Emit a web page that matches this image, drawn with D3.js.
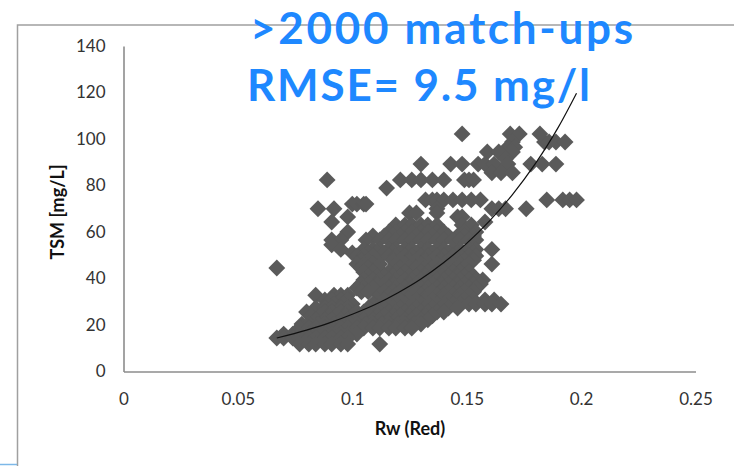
<!DOCTYPE html>
<html>
<head>
  <style>
    html, body { margin: 0; padding: 0; background: #fff; overflow: hidden; }
    svg { display: block; }
    .tick text { font: 17px Lato, sans-serif; fill: #333; }
    .axis-title { font: bold 18px Lato, sans-serif; fill: #111; }
    .headline { font: bold 44px Lato, sans-serif; fill: #1e88ff; }
  </style>
</head>
<body>
  <script src="https://d3js.org/d3.v7.min.js"></script>
  <script>
    const xTicks = [0, 0.05, 0.1, 0.15, 0.2, 0.25];
    const yTicks = [0, 20, 40, 60, 80, 100, 120, 140];

    // TSM values, match-ups grouped by TSM level
    const tsmLevels = [102.2, 98.7, 96.5, 94.4, 91.5, 89.2, 85.5, 82.4, 78.9, 73.8, 72, 70, 68.2, 66.5, 64.3, 63, 60,
      58.3, 56.6, 54.5, 52.5, 51, 49.7, 47.9, 46.2, 44.5, 44.6, 42.8, 41, 39.4, 37.6, 35.9, 34.3, 32.8, 30.8, 29, 27.3,
      25.6, 24, 22.2, 20.4, 18.7, 16.1, 14.4, 11.8];

    // Rw (Red) values for each TSM level above
    const rwAtLevel = [
      [0.148, 0.169, 0.173, 0.182],
      [0.170, 0.184, 0.186, 0.189, 0.193],
      [0.168, 0.171],
      [0.159, 0.164, 0.170],
      [0.167],
      [0.130, 0.143, 0.148, 0.155, 0.158, 0.162, 0.168, 0.178, 0.183, 0.189],
      [0.161, 0.165, 0.170],
      [0.089, 0.121, 0.126, 0.130, 0.135, 0.140, 0.149, 0.151, 0.153],
      [0.115],
      [0.132, 0.135, 0.137, 0.140, 0.144, 0.148, 0.152, 0.156, 0.185, 0.192, 0.195, 0.198],
      [0.100, 0.102, 0.105, 0.106],
      [0.085, 0.092, 0.137, 0.161, 0.164, 0.167, 0.176],
      [0.125, 0.128, 0.137],
      [0.098, 0.146, 0.148],
      [0.091, 0.158],
      [0.119, 0.123, 0.126, 0.130, 0.133, 0.137, 0.148, 0.152],
      [0.098, 0.116, 0.119, 0.123, 0.126, 0.130, 0.133, 0.137, 0.140, 0.149, 0.154],
      [0.109, 0.114, 0.118, 0.121, 0.125, 0.128, 0.132, 0.135, 0.139, 0.142, 0.146, 0.149, 0.153],
      [0.091, 0.095, 0.106, 0.112, 0.116, 0.119, 0.123, 0.126, 0.130, 0.133, 0.137, 0.140, 0.144, 0.147, 0.151, 0.154],
      [0.091],
      [0.095, 0.105, 0.109, 0.112, 0.116, 0.119, 0.123, 0.126, 0.130, 0.133, 0.137, 0.140, 0.144, 0.147, 0.151, 0.154, 0.161],
      [0.100, 0.107, 0.111, 0.114, 0.118, 0.121, 0.125, 0.128, 0.132, 0.135, 0.139, 0.142, 0.146, 0.149, 0.153],
      [0.102, 0.105, 0.109, 0.116, 0.119, 0.123, 0.126, 0.130, 0.133, 0.137, 0.140, 0.144, 0.147, 0.151, 0.154],
      [0.104, 0.107, 0.118, 0.121, 0.125, 0.128, 0.132, 0.135, 0.139, 0.142, 0.146, 0.149, 0.153],
      [0.102, 0.105, 0.109, 0.112, 0.119, 0.123, 0.126, 0.130, 0.133, 0.137, 0.140, 0.144, 0.147, 0.151, 0.161],
      [0.067],
      [0.104, 0.107, 0.111, 0.121, 0.125, 0.128, 0.132, 0.135, 0.139, 0.142, 0.146, 0.149],
      [0.105, 0.109, 0.116, 0.119, 0.123, 0.130, 0.133, 0.137, 0.140, 0.144, 0.147, 0.151],
      [0.107, 0.111, 0.114, 0.118, 0.121, 0.125, 0.128, 0.132, 0.135, 0.139, 0.142, 0.146, 0.149, 0.153],
      [0.105, 0.109, 0.112, 0.116, 0.119, 0.123, 0.126, 0.130, 0.133, 0.137, 0.140, 0.144, 0.147, 0.151, 0.154, 0.157],
      [0.104, 0.107, 0.111, 0.114, 0.118, 0.121, 0.125, 0.128, 0.132, 0.135, 0.139, 0.142, 0.146, 0.149, 0.153, 0.156],
      [0.102, 0.105, 0.109, 0.116, 0.119, 0.123, 0.126, 0.130, 0.133, 0.137, 0.140, 0.144, 0.147, 0.151, 0.154],
      [0.104, 0.107, 0.114, 0.118, 0.121, 0.125, 0.128, 0.132, 0.135, 0.139, 0.142, 0.146, 0.149, 0.153],
      [0.084, 0.092, 0.095, 0.098, 0.112, 0.116, 0.119, 0.123, 0.126, 0.130, 0.133, 0.137, 0.140, 0.144, 0.147, 0.151],
      [0.088, 0.091, 0.095, 0.098, 0.111, 0.114, 0.118, 0.121, 0.125, 0.128, 0.132, 0.135, 0.139, 0.142, 0.146, 0.149, 0.153, 0.158, 0.162],
      [0.089, 0.092, 0.096, 0.100, 0.109, 0.112, 0.116, 0.119, 0.123, 0.126, 0.130, 0.133, 0.137, 0.140, 0.144, 0.147, 0.151, 0.154, 0.158, 0.161, 0.165],
      [0.084, 0.088, 0.091, 0.095, 0.098, 0.107, 0.111, 0.114, 0.118, 0.121, 0.125, 0.128, 0.132, 0.135, 0.139, 0.142, 0.146],
      [0.080, 0.088, 0.091, 0.095, 0.098, 0.102, 0.105, 0.109, 0.112, 0.116, 0.119, 0.123, 0.126, 0.130, 0.133, 0.137, 0.140],
      [0.082, 0.086, 0.090, 0.093, 0.097, 0.100, 0.104, 0.107, 0.111, 0.114, 0.118, 0.121, 0.125, 0.128, 0.132, 0.135],
      [0.084, 0.088, 0.091, 0.095, 0.098, 0.102, 0.105, 0.109, 0.112, 0.116, 0.119, 0.123, 0.126, 0.130, 0.133],
      [0.078, 0.081, 0.085, 0.088, 0.092, 0.095, 0.099, 0.102, 0.106, 0.109, 0.113, 0.116, 0.120, 0.123, 0.127, 0.130],
      [0.077, 0.081, 0.084, 0.088, 0.091, 0.095, 0.098, 0.102, 0.105, 0.109, 0.112, 0.116, 0.119, 0.123, 0.126],
      [0.070, 0.074, 0.077, 0.081, 0.084, 0.088, 0.091, 0.095, 0.098, 0.102],
      [0.067, 0.070, 0.074, 0.077, 0.081, 0.084, 0.088, 0.091, 0.095, 0.098],
      [0.077, 0.081, 0.084, 0.088, 0.091, 0.095, 0.098, 0.112]
    ];

    // trend line
    const trendRw = [0.067, 0.08, 0.09, 0.10, 0.11, 0.12, 0.13, 0.14, 0.15, 0.16, 0.17, 0.18, 0.19, 0.198];
    const trendTsm = [14.4, 17.8, 20.9, 24.6, 28.8, 33.9, 39.8, 46.9, 55.1, 64.8, 76.1, 89.4, 105, 119.7];

    const headlines = [">2000 match-ups", "RMSE= 9.5 mg/l"];
    const headlineWidths = [383, 343];

    const w = 734;
    const h = 466;

    const xScale = d3.scaleLinear().domain([0, 0.25]).range([123.5, 695.5]);
    const yScale = d3.scaleLinear().domain([0, 140]).range([371.5, 46]);

    const matchups = tsmLevels.flatMap((tsm, i) => rwAtLevel[i].map((rw) => [rw, tsm]));

    const svg = d3.select("body")
      .append("svg")
      .attr("width", w)
      .attr("height", h);

    // chart frame, cut off by the slide on the right and bottom
    svg.append("path")
      .attr("d", "M734,25H17.5V466")
      .attr("fill", "none")
      .attr("stroke", "#a0a0a0")
      .attr("stroke-width", 1.5);
    svg.append("path")
      .attr("d", "M0,464.5H17")
      .attr("stroke", "#7db8e8")
      .attr("stroke-width", 1.5);

    const xAxis = d3.axisBottom(xScale)
      .tickValues(xTicks)
      .tickFormat((d) => String(d))
      .tickSize(0)
      .tickPadding(21);
    const yAxis = d3.axisLeft(yScale)
      .tickValues(yTicks)
      .tickSize(0)
      .tickPadding(18);

    svg.append("g")
      .attr("transform", "translate(0," + yScale(0) + ")")
      .call(xAxis);
    svg.append("g")
      .attr("transform", "translate(" + xScale(0) + ",0)")
      .call(yAxis);
    svg.selectAll(".domain")
      .attr("stroke", "#8c8c8c")
      .attr("stroke-width", 1.6);

    const diamond = d3.symbol().type(d3.symbolSquare).size(142);

    svg.append("g")
      .selectAll("path")
      .data(matchups)
      .enter()
      .append("path")
      .attr("d", diamond)
      .attr("transform", (d) => "translate(" + xScale(d[0]) + "," + yScale(d[1]) + ") rotate(45)")
      .attr("fill", "#5a5a5a");

    const trendLine = d3.line()
      .x((d) => xScale(d))
      .y((d, i) => yScale(trendTsm[i]))
      .curve(d3.curveMonotoneX);

    svg.append("path")
      .attr("d", trendLine(trendRw))
      .attr("fill", "none")
      .attr("stroke", "#111")
      .attr("stroke-width", 1.2);

    svg.append("text")
      .attr("class", "axis-title")
      .attr("text-anchor", "middle")
      .attr("transform", "translate(64,212) rotate(-90)")
      .text("TSM [mg/L]");
    svg.append("text")
      .attr("class", "axis-title")
      .attr("text-anchor", "middle")
      .attr("x", 410)
      .attr("y", 435)
      .text("Rw (Red)");

    svg.selectAll(".headline")
      .data(headlines)
      .enter()
      .append("text")
      .attr("class", "headline")
      .attr("x", (d, i) => i === 0 ? 250 : 247)
      .attr("y", (d, i) => i === 0 ? 44 : 101)
      .attr("textLength", (d, i) => headlineWidths[i])
      .attr("lengthAdjust", "spacing")
      .text((d) => d);
  </script>
</body>
</html>
